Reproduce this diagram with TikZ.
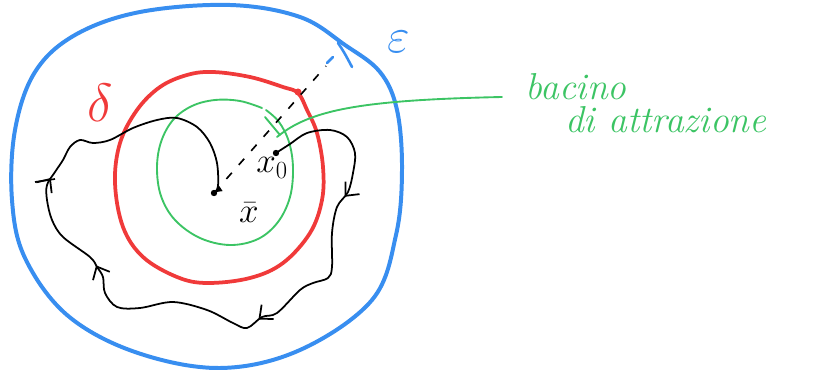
\RequirePackage{fix-cm}
\documentclass[tikz,border=0pt]{standalone}
\usepackage{fontspec}
\usetikzlibrary{arrows.meta,decorations.markings}

\definecolor{epsblue}{RGB}{56,142,240}
\definecolor{deltared}{RGB}{240,58,58}
\definecolor{basgreen}{RGB}{60,196,100}

\begin{document}
\begin{tikzpicture}[x=0.03cm,y=-0.03cm]
    \useasboundingbox (0,0) rectangle (814,372);

    % Punti principali (coordinate in pixel del disegno)
    \coordinate (x0) at (276,153);
    \coordinate (xbar) at (214,193);
    \coordinate (rdelta) at (298,92);
    \coordinate (reps) at (326,66);
    \coordinate (tick_a) at (338,43);
    \coordinate (tick_b) at (352,67);
    \coordinate (ptr_start) at (277,137);
    \coordinate (ptr_end) at (502,97);

    % Stili
    \tikzset{
        c_barb/.tip={Straight Barb[length=9pt,width=16pt]},
        c_eps/.style={color=epsblue, line width=3.4pt, line cap=round, line join=round},
        c_delta/.style={color=deltared, line width=3.2pt, line cap=round, line join=round},
        c_bas/.style={color=basgreen, line width=1.6pt, line cap=round},
        c_orbit/.style={color=black, line width=1.5pt, line cap=round,
            postaction={decorate},
            decoration={markings,
                mark=at position 0.165 with {\arrow{c_barb}},
                mark=at position 0.36 with {\arrow{c_barb}},
                mark=at position 0.59 with {\arrow{c_barb}},
                mark=at position 0.715 with {\arrow{c_barb}}}},
        c_rad/.style={color=black, line width=1.4pt, dash pattern=on 7pt off 9pt},
        c_pt/.style={font=\fontsize{30}{32}\selectfont, inner sep=0pt},
        c_txt/.style={font=\fontsize{32}{34}\selectfont\itshape, text=basgreen, anchor=base west, inner sep=0pt}
    }

    % Intorno epsilon (blu)
    \draw[c_eps] plot[smooth cycle, tension=0.6] coordinates {
        (12,200) (15,130) (35,72) (75,35) (140,12) (230,5) (300,17) (345,45)
        (380,72) (397,110) (402,170) (396,235) (372,300) (300,350) (220,368)
        (135,352) (67,315) (25,258)};

    % Intorno delta (rosso)
    \draw[c_delta] plot[smooth cycle, tension=0.6] coordinates {
        (115,183) (120,143) (137,110) (160,87) (187,75) (213,72) (250,77)
        (283,87) (298,93) (307,110) (317,133) (323,167) (322,200) (310,233)
        (283,263) (250,278) (207,283) (177,277) (143,257) (123,227)};
    \fill[deltared] (rdelta) circle (3.5);

    % Bacino di attrazione (verde)
    \draw[c_bas] plot[smooth, tension=0.6] coordinates {
        (262,108) (240,101) (215,100) (192,106) (173,120) (161,142) (157,168)
        (161,196) (175,220) (200,238) (230,245) (258,239) (278,222) (290,197)
        (293,168) (289,142) (279,122) (266,110)};
    \draw[c_bas] (265,117) -- (280,135);
    \draw[c_bas] (ptr_start) .. controls (310,110) and (360,100) .. (ptr_end);

    % Raggio tratteggiato
    \draw[c_rad] (xbar) -- (reps);
    \draw[epsblue, line width=2.2pt, line cap=round] (327,63) -- (333,57);
    \draw[epsblue, line width=2.2pt, line cap=round] (tick_a) .. controls (344,52) .. (tick_b);

    % Orbita da x0 a xbar
    \draw[c_orbit, -{Latex[length=7pt,width=6pt]}] plot[smooth, tension=0.55] coordinates {
        (x0) (290,144) (307,133) (330,130) (347,137) (355,153) (353,173) (348,192)
        (337,207) (332,233) (332,267) (328,278) (313,283) (300,290) (277,313)
        (262,317) (247,328) (233,323) (207,310) (173,302) (140,308) (117,307)
        (105,293) (103,277) (97,267) (90,257) (63,237) (52,220) (47,200) (47,185)
        (55,172) (63,160) (70,147) (80,140) (93,143) (110,140) (133,128) (157,120)
        (177,118) (197,127) (210,143) (217,163) (218,186) (xbar)};
    \draw[black, line width=1.4pt] (35,182) -- (55,179);

    % Punti
    \foreach \p in {x0,xbar} {
        \fill[black] (\p) circle (3.2);
    }

    % Etichette
    \node[text=deltared, font=\fontsize{46}{48}\selectfont] (lbl_delta) at (100,103) {$\delta$};
    \node[text=epsblue, font=\fontsize{42}{44}\selectfont] (lbl_eps) at (399,42) {$\varepsilon$};
    \node[c_pt] (lbl_x0) at (272,168) {$x_0$};
    \node[c_pt] (lbl_xbar) at (249,213) {$\bar{x}$};
    \node[c_txt] (lbl_bacino) at (525,100) {bacino};
    \node[c_txt] (lbl_attr) at (565,133) {di attrazione};
\end{tikzpicture}
\end{document}
